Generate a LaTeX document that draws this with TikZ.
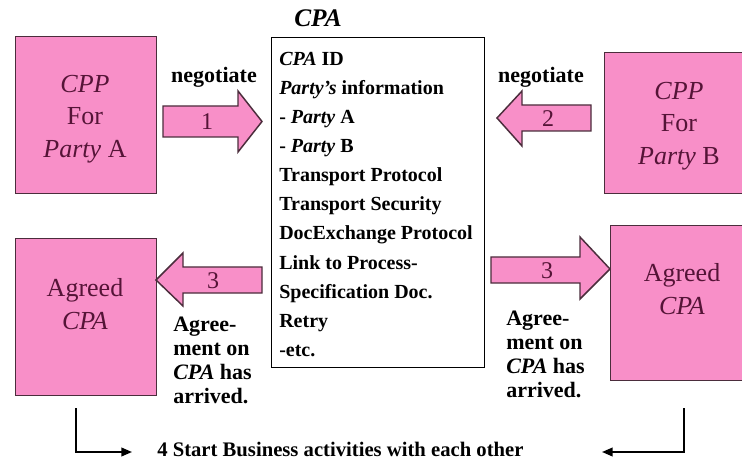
\documentclass[tikz,border=0pt]{standalone}
\usepackage{fontspec}
\setmainfont{Liberation Serif}
\usetikzlibrary{arrows.meta}
\definecolor{pinkfill}{RGB}{248,143,200}
\definecolor{boxtext}{RGB}{85,20,55}
\definecolor{edgecol}{RGB}{75,45,60}
\tikzset{
  pbox/.style={draw=edgecol, line width=1.1pt, fill=pinkfill, inner sep=0pt, anchor=north west},
  ptext/.style={text=boxtext, font=\fontsize{19.5}{24.5}\selectfont, align=center, inner sep=0pt},
  arr/.style={draw=edgecol, line width=1.1pt, fill=pinkfill, line join=miter},
  num/.style={text=boxtext, font=\fontsize{18}{18}\selectfont, inner sep=0pt},
  lbl/.style={font=\bfseries\fontsize{16.5}{18}\selectfont, align=left, inner sep=0pt},
  item/.style={font=\bfseries\fontsize{15}{15}\selectfont, anchor=base west, inner sep=0pt},
  flow/.style={-{Triangle[length=8pt,width=6.5pt]}, line width=1.3pt}
}
\begin{document}
\begin{tikzpicture}[x=0.75pt,y=-0.75pt]
\useasboundingbox (0,0) rectangle (742,463);
\clip (0,0) rectangle (742,463);
\fill[white] (0,0) rectangle (742,463);

% pink boxes
\node[pbox, minimum width=105.75pt, minimum height=117.75pt] (cppA) at (15,36) {};
\node[pbox, minimum width=109.5pt, minimum height=105.75pt] (cppB) at (604,52) {};
\node[pbox, minimum width=105.75pt, minimum height=117.75pt] (agrL) at (15,238) {};
\node[pbox, minimum width=106.5pt, minimum height=116.25pt] (agrR) at (610,225) {};

\node[ptext] (tA) at (85,119) {\textit{CPP}\\For\\\textit{Party} A};
\node[ptext] (tB) at (679,126) {\textit{CPP}\\For\\\textit{Party} B};
\node[ptext] (tL) at (85,304) {Agreed\\\textit{CPA}};
\node[ptext] (tR) at (682,289) {Agreed\\\textit{CPA}};

% CPA box
\node[draw=black, line width=1.1pt, fill=white, inner sep=0pt, anchor=north west,
      minimum width=159.75pt, minimum height=247.5pt] (cpa) at (271,37) {};
\node[font=\bfseries\itshape\fontsize{19}{19}\selectfont, inner sep=0pt] (title) at (318,18) {CPA};

\node[item] (i0) at (279,66) {\textit{CPA} ID};
\node[item] (i1) at (279,95) {\textit{Party’s} information};
\node[item] (i2) at (279,124) {- \textit{Party} A};
\node[item] (i3) at (279,153) {- \textit{Party} B};
\node[item] (i4) at (279,182) {Transport Protocol};
\node[item] (i5) at (279,211) {Transport Security};
\node[item] (i6) at (279,240) {DocExchange Protocol};
\node[item] (i7) at (279,269) {Link to Process-};
\node[item] (i8) at (279,298) {Specification Doc.};
\node[item] (i9) at (279,327) {Retry};
\node[item] (i10) at (279,356) {-etc.};

% block arrows
\draw[arr] (163,106) -- (238,106) -- (238,91) -- (262,121.5) -- (238,152) -- (238,137) -- (163,137) -- cycle;
\node[num] (n1) at (207,122) {1};
\draw[arr] (591,105) -- (522,105) -- (522,91) -- (497,118) -- (522,146) -- (522,131) -- (591,131) -- cycle;
\node[num] (n2) at (548,119) {2};
\draw[arr] (262,267) -- (183,267) -- (183,253) -- (156,280) -- (183,306) -- (183,293) -- (262,293) -- cycle;
\node[num] (n3a) at (213,281) {3};
\draw[arr] (491,257) -- (580,257) -- (580,237) -- (610,269) -- (580,299) -- (580,283) -- (491,283) -- cycle;
\node[num] (n3b) at (547,271) {3};

% labels
\node[lbl, align=center] (neg1) at (214,77) {negotiate};
\node[lbl, align=center] (neg2) at (541,77) {negotiate};
\node[lbl, anchor=north west] (agL) at (173,317) {Agree-\\ment on\\\textit{CPA} has\\arrived.};
\node[lbl, anchor=north west] (agR) at (506,311) {Agree-\\ment on\\\textit{CPA} has\\arrived.};

% bottom
\node[lbl, font=\bfseries\fontsize{15.5}{18}\selectfont, anchor=west] (start) at (157,449) {4 Start Business activities with each other};
\coordinate (l0) at (76,408);
\coordinate (l1) at (132,452);
\coordinate (r0) at (684,408);
\coordinate (r1) at (602,452);
\draw[flow] (l0) |- (l1);
\draw[flow] (r0) |- (r1);
\end{tikzpicture}
\end{document}
